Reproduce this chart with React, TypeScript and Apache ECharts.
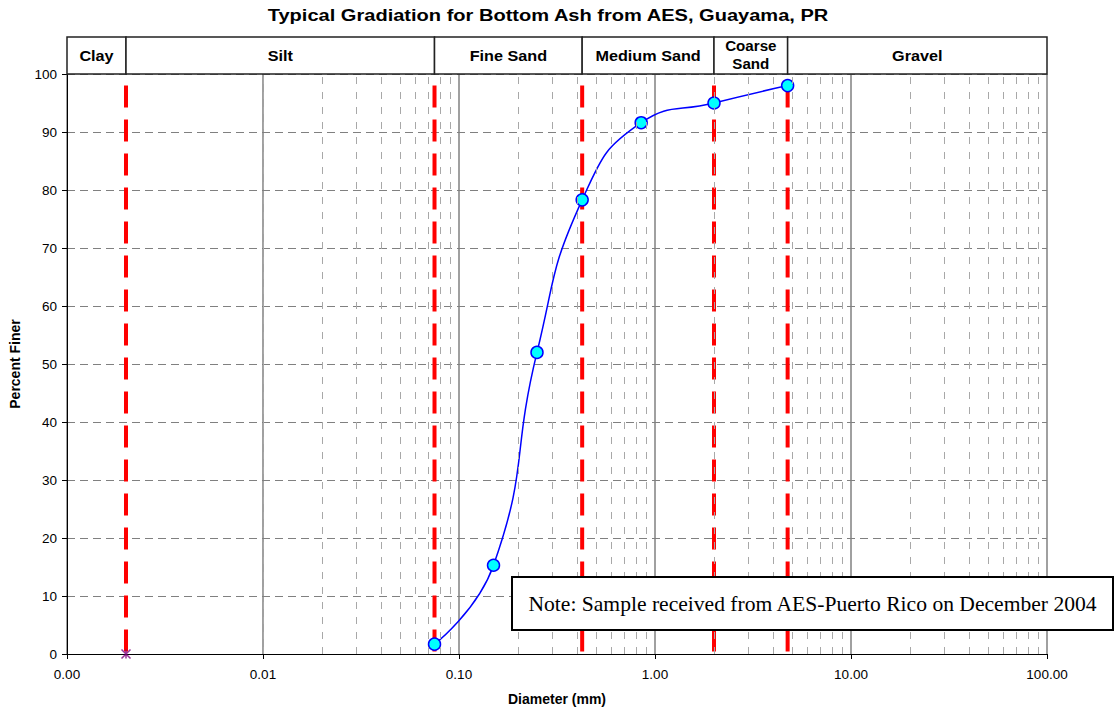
import React, { useEffect, useRef } from "react";
import * as echarts from "echarts";

// ---- data ----
const diameters = [0.075, 0.15, 0.25, 0.425, 0.85, 2.0, 4.75];
const percentFiner = [1.7, 15.3, 52.0, 78.3, 91.6, 95.0, 98.0];
const boundaryDiameters = [0.002, 0.075, 0.425, 2.0, 4.75];
const boundaryTop = 98;
const soilClasses = ["Clay", "Silt", "Fine Sand", "Medium Sand", "Coarse\nSand", "Gravel"];
const classEdges = [0.001, 0.002, 0.075, 0.425, 2.0, 4.75, 100];
const clayPoint = [0.002, 0];
const decades = [0.001, 0.01, 0.1, 1, 10];
const minorMultipliers = [2, 3, 4, 5, 6, 7, 8, 9];
const noteText = "Note: Sample received from AES-Puerto Rico on December 2004";
const titleText = "Typical Gradiation for Bottom Ash from AES, Guayama, PR";

const FONT = "'Liberation Sans', Arial, sans-serif";

export default function App() {
  const ref = useRef<HTMLDivElement>(null);
  useEffect(() => {
    if (!ref.current) return;
    const chart = echarts.init(ref.current, undefined, { renderer: "svg" });

    const minorLines: any[] = [];
    decades.forEach((d) => minorMultipliers.forEach((m) => minorLines.push({ xAxis: +(d * m).toPrecision(3) })));

    const series: any[] = [
      {
        name: "minorGrid",
        type: "line",
        data: [],
        silent: true,
        z: 1,
        markLine: {
          silent: true,
          symbol: "none",
          label: { show: false },
          lineStyle: { color: "#a8a8a8", width: 1, type: [7, 8] },
          data: minorLines,
        },
      },
    ];
    boundaryDiameters.forEach((d, i) => {
      series.push({
        name: "boundary" + i,
        type: "line",
        data: [
          [d, boundaryTop],
          [d, 0],
        ],
        symbol: "none",
        silent: true,
        z: 2,
        lineStyle: { color: "#ff0000", width: 4, type: [22, 12] },
      });
    });
    series.push({
      name: "clay",
      type: "scatter",
      data: [clayPoint],
      symbol: "path://M0,0L10,10M10,0L0,10M5,0L5,10",
      symbolSize: 9,
      z: 3,
      itemStyle: { color: "none", borderColor: "#800080", borderWidth: 1.5 },
    });
    series.push({
      name: "gradation",
      type: "line",
      data: diameters.map((d, i) => [d, percentFiner[i]]),
      smooth: 0.5,
      z: 4,
      symbol: "circle",
      symbolSize: 12,
      lineStyle: { color: "#0000ff", width: 1.5 },
      itemStyle: { color: "#00ffff", borderColor: "#0000ff", borderWidth: 1.5 },
    });

    const option: any = {
      animation: false,
      backgroundColor: "#ffffff",
      grid: { left: 67, right: 70, top: 74, bottom: 57, containLabel: false },
      xAxis: {
        type: "log",
        logBase: 10,
        min: 0.001,
        max: 100,
        name: "Diameter (mm)",
        nameLocation: "middle",
        nameGap: 38,
        nameTextStyle: { fontFamily: FONT, fontSize: 14, fontWeight: "bold", color: "#000" },
        axisLine: { lineStyle: { color: "#000", width: 1 } },
        axisTick: { show: true, length: 5, lineStyle: { color: "#000" } },
        axisLabel: {
          fontFamily: FONT,
          fontSize: 13.5,
          color: "#000",
          margin: 13,
          formatter: (v: number) => v.toFixed(2),
        },
        splitLine: { show: true, lineStyle: { color: "#808080", width: 1.5, type: "solid" } },
        minorTick: { show: false },
      },
      yAxis: {
        type: "value",
        min: 0,
        max: 100,
        interval: 10,
        name: "Percent Finer",
        nameLocation: "middle",
        nameGap: 45,
        nameTextStyle: { fontFamily: FONT, fontSize: 14, fontWeight: "bold", color: "#000" },
        axisLine: { show: true, lineStyle: { color: "#000", width: 1 } },
        axisTick: { show: true, length: 5, lineStyle: { color: "#000" } },
        axisLabel: { fontFamily: FONT, fontSize: 13.5, color: "#000", margin: 10 },
        splitLine: { show: true, lineStyle: { color: "#808080", width: 1, type: [8, 5] } },
      },
      series,
    };
    chart.setOption(option);

    const toPx = (x: number, y: number) =>
      chart.convertToPixel({ xAxisIndex: 0, yAxisIndex: 0 }, [x, y]) as number[];

    const topPx = toPx(1, 100)[1];
    const boxH = 37;
    const graphics: any[] = [];
    graphics.push({
      type: "text",
      x: 548,
      y: 15,
      scaleX: 1.18,
      style: {
        text: titleText,
        fontFamily: FONT,
        fontSize: 17,
        fontWeight: "bold",
        fill: "#000",
        align: "center",
        verticalAlign: "middle",
      },
      z: 11,
    });
    soilClasses.forEach((name, i) => {
      const x0 = toPx(classEdges[i], 100)[0];
      const x1 = toPx(classEdges[i + 1], 100)[0];
      graphics.push({
        type: "rect",
        shape: { x: x0, y: topPx - boxH, width: x1 - x0, height: boxH },
        style: { fill: "#fff", stroke: "#222", lineWidth: 1.5 },
        z: 10,
      });
      const twoLine = name.indexOf("\n") >= 0;
      graphics.push({
        type: "text",
        x: (x0 + x1) / 2,
        y: topPx - boxH / 2,
        scaleX: 1.08,
        style: {
          text: name,
          fontFamily: FONT,
          fontSize: twoLine ? 14 : 15,
          fontWeight: "bold",
          fill: "#000",
          align: "center",
          verticalAlign: "middle",
          lineHeight: 18,
        },
        z: 11,
      });
    });
    graphics.push({
      type: "rect",
      shape: { x: 512, y: 577, width: 601, height: 53 },
      style: { fill: "#fff", stroke: "#000", lineWidth: 2 },
      z: 10,
    });
    graphics.push({
      type: "text",
      x: 512 + 601 / 2,
      y: 577 + 53 / 2 + 1,
      scaleX: 1.08,
      style: {
        text: noteText,
        fontFamily: "'Liberation Serif', 'Times New Roman', serif",
        fontSize: 20,
        fill: "#000",
        align: "center",
        verticalAlign: "middle",
      },
      z: 11,
    });
    chart.setOption({ graphic: graphics });

    return () => chart.dispose();
  }, []);

  return (
    <div
      ref={ref}
      style={{ position: "fixed", left: 0, top: 0, width: 1117, height: 711 }}
    />
  );
}
